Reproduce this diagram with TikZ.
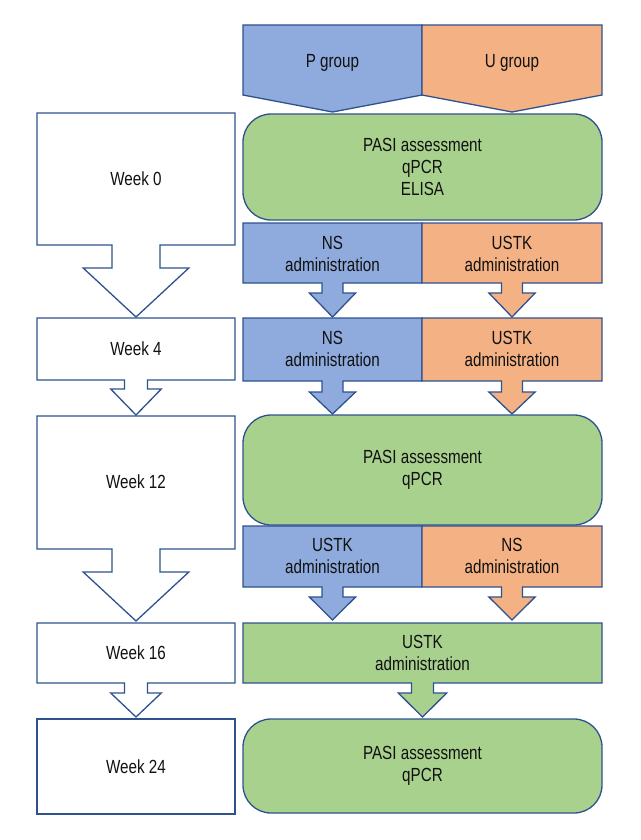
\documentclass[tikz,border=0pt]{standalone}
\usepackage{fontspec}
\setmainfont{Liberation Sans}[FakeStretch=0.8]
\definecolor{bluef}{HTML}{8FAADC}
\definecolor{orangef}{HTML}{F4B183}
\definecolor{greenf}{HTML}{A9D18E}
\definecolor{edgec}{HTML}{2F528F}
\definecolor{txt}{HTML}{111111}
\tikzset{
  shp/.style={draw=edgec, line width=1.3pt, line join=miter},
  bshp/.style={shp, fill=bluef},
  oshp/.style={shp, fill=orangef},
  gshp/.style={shp, fill=greenf},
  wshp/.style={shp, fill=white},
  lbl/.style={align=center, inner sep=0pt, text=txt, font=\fontsize{19}{22}\selectfont},
  rbox/.style={gshp, rounded corners=28pt, minimum width=359pt, inner sep=0pt, align=center, text=txt, font=\fontsize{19}{22}\selectfont},
}
% #1 style, #2 x1, #3 x2, #4 ytop, #5 ybot, #6 cx, #7 stem half, #8 head base y, #9 tip y
\newcommand\boxarrow[9]{%
  \path[#1] (#2,#4) -- (#3,#4) -- (#3,#5) -- ({#6+#7},#5) -- ({#6+#7},#8)
    -- ({#6+2.2*#7},#8) -- (#6,#9) -- ({#6-2.2*#7},#8) -- ({#6-#7},#8)
    -- ({#6-#7},#5) -- (#2,#5) -- cycle;}
\begin{document}
\begin{tikzpicture}[x=1pt,y=-1pt]
\useasboundingbox (0,0) rectangle (640,840);
% left column
\boxarrow{wshp}{37}{235}{113}{245}{136}{24}{268}{317}
\node[lbl] (w0) at (136,179) {Week 0};
\boxarrow{wshp}{37}{235}{318}{380}{136}{11.5}{389}{415}
\node[lbl] (w4) at (136,349) {Week 4};
\boxarrow{wshp}{37}{235}{416}{549}{136}{24}{572}{621}
\node[lbl] (w12) at (136,482) {Week 12};
\boxarrow{wshp}{37}{235}{623}{683}{136}{11.5}{693}{717}
\node[lbl] (w16) at (136,653) {Week 16};
\path[wshp] (37,719) -- (235,719) -- (235,814) -- (37,814) -- cycle;
\node[lbl] (w24) at (136,767) {Week 24};
% headers
\path[bshp] (243,25) -- (422,25) -- (422,95) -- (332.5,112) -- (243,95) -- cycle;
\path[oshp] (422,25) -- (602,25) -- (602,95) -- (512,112) -- (422,95) -- cycle;
\node[lbl] (pg) at (332.5,63) {P group};
\node[lbl] (ug) at (512,63) {U group};
% green 1
\node[rbox, minimum height=106pt] (g1) at (422.5,167) {PASI assessment\\qPCR\\ELISA};
% row 1
\boxarrow{bshp}{243}{422}{223}{283}{332.5}{10.5}{293}{317}
\boxarrow{oshp}{422}{602}{223}{283}{512}{10.5}{293}{317}
\node[lbl] (r1a) at (332.5,254) {NS\\administration};
\node[lbl] (r1b) at (512,254) {USTK\\administration};
% row 2
\boxarrow{bshp}{243}{422}{318}{381}{332.5}{10.5}{392}{414}
\boxarrow{oshp}{422}{602}{318}{381}{512}{10.5}{392}{414}
\node[lbl] (r2a) at (332.5,349) {NS\\administration};
\node[lbl] (r2b) at (512,349) {USTK\\administration};
% green 2
\node[rbox, minimum height=110pt] (g2) at (422.5,470) {PASI assessment\\qPCR};
% row 3
\boxarrow{bshp}{243}{422}{526}{587}{332.5}{10.5}{597}{620}
\boxarrow{oshp}{422}{602}{526}{587}{512}{10.5}{597}{620}
\node[lbl] (r3a) at (332.5,556) {USTK\\administration};
\node[lbl] (r3b) at (512,556) {NS\\administration};
% green USTK
\boxarrow{gshp}{243}{602}{623}{683}{422.5}{11}{693}{717}
\node[lbl] (r4) at (422.5,653) {USTK\\administration};
% green 3
\node[rbox, minimum height=94pt] (g3) at (422.5,766) {PASI assessment\\qPCR};
\end{tikzpicture}
\end{document}
